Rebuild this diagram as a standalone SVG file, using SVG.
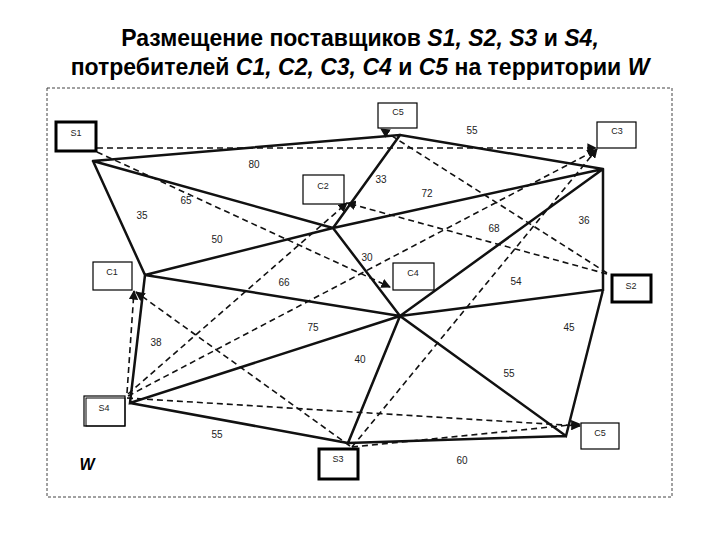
<svg xmlns="http://www.w3.org/2000/svg" width="720" height="540" viewBox="0 0 720 540">
<style>
text{font-family:"Liberation Sans",Arial,sans-serif}
.t{font-size:23px;font-weight:bold;text-anchor:middle}
.n{font-size:9px;text-anchor:middle;fill:#222}
.l{font-size:10px;text-anchor:middle;fill:#222}
.box{fill:#fff;stroke:#000;stroke-width:1.2}
.bx{fill:#fff;stroke:#000;stroke-width:3}
.s{stroke:#111;stroke-width:2.5;fill:none;stroke-linecap:round}
.d{stroke:#111;stroke-width:1.6;fill:none;stroke-dasharray:6 4;marker-end:url(#ar)}
</style>
<defs><marker id="ar" viewBox="0 0 10 10" refX="9" refY="5" markerWidth="6" markerHeight="6" orient="auto"><path d="M0,0L10,5L0,10z" fill="#111"/></marker></defs>
<rect width="720" height="540" fill="#fff"/>
<text class="t" x="360" y="46">Размещение поставщиков <tspan font-style="italic">S1, S2, S3</tspan> и <tspan font-style="italic">S4,</tspan></text>
<text class="t" x="360" y="75">потребителей <tspan font-style="italic">C1, C2, C3, C4</tspan> и <tspan font-style="italic">C5</tspan> на территории <tspan font-style="italic">W</tspan></text>
<rect x="47" y="88" width="625" height="409" fill="none" stroke="#444" stroke-dasharray="3 2" stroke-width="1"/>
<g id="connectors">
<path class="s" d="M93,161L400,135L603,169M93,161L333,228L400,135M93,161L145,275L333,228L603,169M333,228L400,316L145,275M603,169L400,316M603,169L603,290L400,316M145,275L130,403L400,316M130,403L348,443L400,316L566,436L603,290M348,443L566,436"/>
<path class="d" d="M97,148L596,148"/>
<path class="d" d="M97,152L390,287"/>
<path class="d" d="M607,274L347,203"/>
<path class="d" d="M607,273L381,129"/>
<path class="d" d="M352,447L597,149"/>
<path class="d" d="M352,447L580,424"/>
<path class="d" d="M127,398L580,426"/>
<path class="d" d="M127,393L134,291"/>
<path class="d" d="M128,394L347,203"/>
<path class="d" d="M128,396L596,150"/>
<path class="d" d="M350,446L136,292"/>
</g>
<g class="l">
<text x="472" y="134">55</text><text x="254" y="168">80</text><text x="381" y="183">33</text><text x="427" y="197">72</text><text x="186" y="204">65</text><text x="142" y="219">35</text><text x="584" y="224">36</text><text x="494" y="232">68</text><text x="217" y="243">50</text><text x="367" y="261">30</text><text x="284" y="286">66</text><text x="516" y="285">54</text><text x="313" y="331">75</text><text x="569" y="331">45</text><text x="156" y="346">38</text><text x="360" y="363">40</text><text x="509" y="377">55</text><text x="217" y="438">55</text><text x="462" y="464">60</text>
</g>
<g id="S1"><rect class="bx" x="56" y="122" width="40" height="29"/><text class="n" x="76" y="136">S1</text></g>
<g id="C5top"><rect class="box" x="378" y="103" width="39" height="25"/><text class="n" x="398" y="115">C5</text></g>
<g id="C3"><rect class="box" x="597" y="122" width="39" height="26"/><text class="n" x="617" y="134">C3</text></g>
<g id="C2"><rect class="box" x="303" y="175" width="41" height="29" stroke-width="2.2"/><text class="n" x="323" y="189">C2</text></g>
<g id="C1"><rect class="box" x="93" y="262" width="39" height="28"/><text class="n" x="112" y="275">C1</text></g>
<g id="C4"><rect class="box" x="393" y="263" width="41" height="27"/><text class="n" x="413" y="276">C4</text></g>
<g id="S2"><rect class="bx" x="612" y="275" width="39" height="27"/><text class="n" x="631" y="289">S2</text></g>
<g id="S4"><rect class="box" x="84" y="396" width="41" height="30" stroke-width="1"/><rect x="86" y="398" width="39" height="28" fill="none" stroke="#000" stroke-width="1"/><text class="n" x="104" y="411">S4</text></g>
<g id="S3"><rect class="bx" x="319" y="449" width="39" height="30"/><text class="n" x="338" y="462">S3</text></g>
<g id="C5"><rect class="box" x="581" y="423" width="38" height="26"/><text class="n" x="600" y="436">C5</text></g>
<text x="87" y="470" font-size="16" font-weight="bold" font-style="italic" text-anchor="middle">W</text>
</svg>
